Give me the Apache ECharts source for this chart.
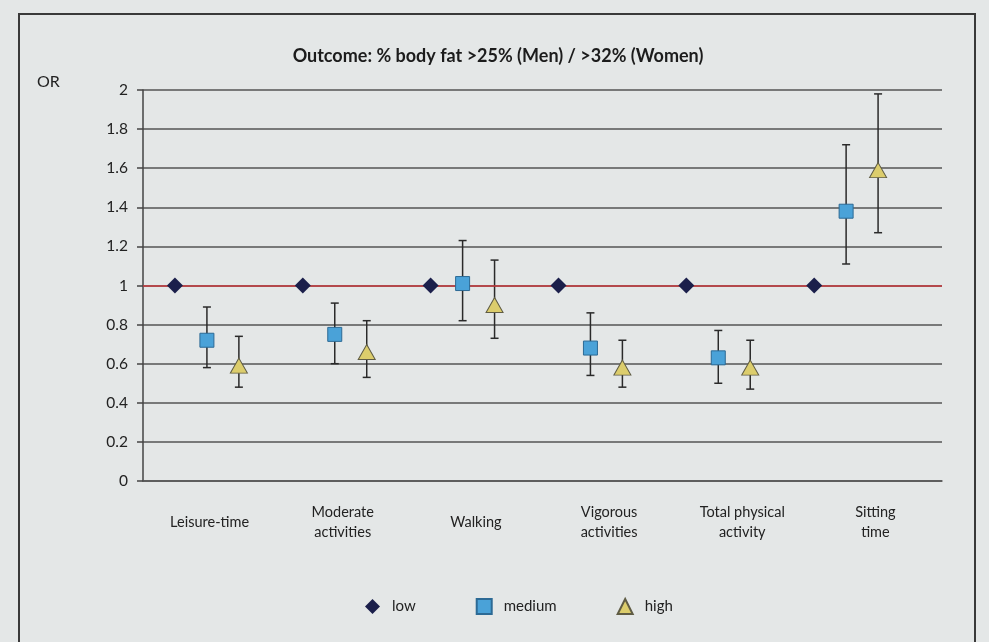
<!DOCTYPE html>
<html>
<head>
<meta charset="utf-8">
<script src="https://cdn.jsdelivr.net/npm/echarts@6/dist/echarts.min.js"></script>
<style>
  html, body { margin: 0; padding: 0; background: #e4e7e7; }
  #chart { width: 989px; height: 642px; }
</style>
</head>
<body>
<div id="chart"></div>
<script>
// categories along the bottom
const categories = ["Leisure-time", "Moderate\nactivities", "Walking", "Vigorous\nactivities", "Total physical\nactivity", "Sitting\ntime"];
const yTicks = [0, 0.2, 0.4, 0.6, 0.8, 1, 1.2, 1.4, 1.6, 1.8, 2];

// odds ratios, reference group = low
const lowOR = [1, 1, 1, 1, 1, 1];
const mediumOR = [0.72, 0.75, 1.01, 0.68, 0.63, 1.38];
const mediumLo = [0.58, 0.60, 0.82, 0.54, 0.50, 1.11];
const mediumHi = [0.89, 0.91, 1.23, 0.86, 0.77, 1.72];
const highOR = [0.59, 0.66, 0.90, 0.58, 0.58, 1.59];
const highLo = [0.48, 0.53, 0.73, 0.48, 0.47, 1.27];
const highHi = [0.74, 0.82, 1.13, 0.72, 0.72, 1.98];

// each group takes 4 slots on the hidden value axis: low, medium, high, gap
const slot = (g, s) => g * 4 + 1 + s;

const chart = echarts.init(document.getElementById("chart"));

const lowData = lowOR.map((v, i) => [slot(i, 0), v]);
const medData = mediumOR.map((v, i) => [slot(i, 1), v]);
const highData = highOR.map((v, i) => [slot(i, 2), v]);
const errData = [];
mediumOR.forEach((v, i) => errData.push([slot(i, 1), mediumLo[i], mediumHi[i]]));
highOR.forEach((v, i) => errData.push([slot(i, 2), highLo[i], highHi[i]]));

const font = "Lato, 'Open Sans', sans-serif";

chart.setOption({
  backgroundColor: "#e4e7e7",
  animation: false,
  textStyle: { fontFamily: font },
  title: {
    text: "Outcome: % body fat >25% (Men) / >32% (Women)",
    left: 493,
    textAlign: "center",
    top: 42,
    textStyle: { fontSize: 18, fontWeight: "bold", color: "#1c1c1c", fontFamily: font },
  },
  graphic: [
    {
      type: "rect",
      shape: { x: 19, y: 14, width: 956, height: 650 },
      style: { fill: "none", stroke: "#3a3a3a", lineWidth: 2 },
      silent: true,
    },
    {
      type: "text",
      left: 37,
      top: 74,
      style: { text: "OR", fontSize: 16, fill: "#222", fontFamily: font },
    },
  ],
  legend: {
    top: 593,
    left: 360,
    itemWidth: 15,
    itemHeight: 15,
    itemGap: 60,
    textStyle: { fontSize: 15, color: "#222", fontFamily: font, padding: [0, 0, 0, 7] },
    data: ["low", "medium", "high"],
  },
  grid: { left: 143, right: 47, top: 90, bottom: 161 },
  xAxis: [
    {
      type: "category",
      data: categories,
      axisLine: { show: true, lineStyle: { color: "#555", width: 1.5 } },
      axisTick: { show: false },
      axisLabel: {
        margin: 41,
        fontSize: 14.5,
        color: "#222",
        lineHeight: 20,
        verticalAlign: "middle",
        interval: 0,
        fontFamily: font,
      },
      splitLine: { show: false },
    },
    {
      type: "value",
      min: 0,
      max: 25,
      show: false,
    },
  ],
  yAxis: {
    type: "value",
    min: 0,
    max: 2,
    interval: 0.2,
    axisLine: { show: true, lineStyle: { color: "#444", width: 1.5 } },
    axisTick: { show: true, inside: false, length: 6, lineStyle: { color: "#444", width: 1.5 } },
    axisLabel: {
      fontSize: 15.5,
      color: "#222",
      margin: 15,
      fontFamily: font,
      formatter: (v) => String(Number(v.toFixed(1))),
    },
    splitLine: { lineStyle: { color: "#555", width: 1.5 } },
  },
  series: [
    {
      name: "errors",
      type: "custom",
      xAxisIndex: 1,
      data: errData,
      z: 2,
      renderItem: (params, api) => {
        const top = api.coord([api.value(0), api.value(2)]);
        const bot = api.coord([api.value(0), api.value(1)]);
        const cap = 4;
        const style = { stroke: "#2a2a2a", lineWidth: 1.5 };
        return {
          type: "group",
          children: [
            { type: "line", shape: { x1: top[0], y1: top[1], x2: bot[0], y2: bot[1] }, style },
            { type: "line", shape: { x1: top[0] - cap, y1: top[1], x2: top[0] + cap, y2: top[1] }, style },
            { type: "line", shape: { x1: bot[0] - cap, y1: bot[1], x2: bot[0] + cap, y2: bot[1] }, style },
          ],
        };
      },
    },
    {
      name: "low",
      type: "scatter",
      xAxisIndex: 1,
      symbol: "diamond",
      symbolSize: [16, 16],
      z: 5,
      itemStyle: { color: "#1b1f4b", opacity: 1 },
      data: lowData,
      markLine: {
        silent: true,
        symbol: "none",
        label: { show: false },
        lineStyle: { color: "#c83a3e", width: 1.5, type: "solid" },
        data: [{ yAxis: 1 }],
        z: 3,
      },
    },
    {
      name: "medium",
      type: "scatter",
      xAxisIndex: 1,
      symbol: "rect",
      symbolSize: [14, 14],
      z: 5,
      itemStyle: { color: "#4aa2d8", borderColor: "#2c6a95", borderWidth: 1, opacity: 1 },
      data: medData,
    },
    {
      name: "high",
      type: "scatter",
      xAxisIndex: 1,
      symbol: "triangle",
      symbolSize: [17, 15],
      z: 5,
      itemStyle: { color: "#dccd6c", borderColor: "#5f5c44", borderWidth: 1, opacity: 1 },
      data: highData,
    },
  ],
});
</script>
</body>
</html>
